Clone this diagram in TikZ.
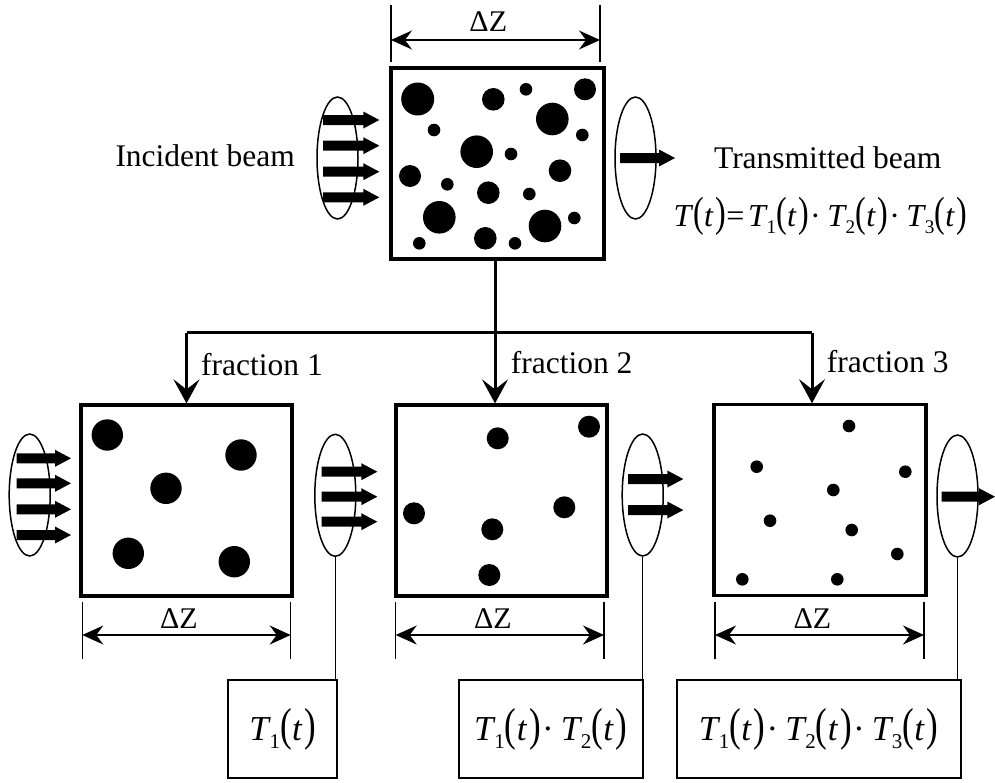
\documentclass[tikz,border=0pt]{standalone}
\usepackage{fontspec}
\setmainfont{Liberation Serif}
\usepackage{graphicx}
\usetikzlibrary{arrows.meta,shapes.geometric}

\newcommand\PL{\scalebox{1}[1.32]{(}}
\newcommand\PR{\scalebox{1}[1.32]{)}}
\newcommand\argt{\PL\kern0.01em\textit{t}\kern0.06em\PR}
\newcommand\Tn[1]{\textit{T}\kern-0.04em\raisebox{-0.22em}{\scalebox{0.6}{#1}}}
\newcommand\cdt{\kern0.03em·\kern0.2em}
\newcommand\beamarrow[3]{\fill (#1,#3-5) -- (#2-16,#3-5) -- (#2-16,#3-8.5) -- (#2,#3) -- (#2-16,#3+8.5) -- (#2-16,#3+5) -- (#1,#3+5) -- cycle;}

\tikzset{
  samplebox/.style={draw, line width=3.2pt, inner sep=0pt},
  resbox/.style={draw, line width=2pt, inner sep=0pt, minimum height=98pt, font=\fontsize{35}{42}\selectfont},
  beamring/.style={draw, ellipse, line width=1.5pt, inner sep=0pt, minimum width=41pt, minimum height=122pt},
  tree/.style={line width=3pt},
  treearrow/.style={tree, -{Stealth[length=24pt,width=26pt,inset=10pt]}},
  dimtick/.style={line width=1.4pt},
  dimarrow/.style={line width=1.4pt, {Stealth[length=21pt,width=19pt,inset=7pt]}-{Stealth[length=21pt,width=19pt,inset=7pt]}},
  lead/.style={line width=1.4pt},
  lbl/.style={inner sep=0pt, font=\fontsize{31.5}{38}\selectfont},
  dz/.style={inner sep=0pt, anchor=base, font=\fontsize{30}{36}\selectfont},
}

\begin{document}
\begin{tikzpicture}[x=1pt,y=-1pt]
\useasboundingbox (0,0) rectangle (995,782);

% ---------- top sample ----------
\node[samplebox, minimum width=213pt, minimum height=191pt] (top) at (497.5,163.5) {};
\foreach \x/\y/\r in {417.7/99/16.5, 493.3/99.3/11.3, 526/89.3/6.3, 585/89.3/11,
  552.3/119/16.3, 434/130/6.3, 582.3/135/6.3, 476.7/151.7/16.3, 511/154/6.3,
  410/176/11, 560/170.7/11.3, 447.3/184.3/6.3, 488.3/192.7/11.3, 529.3/194/6.3,
  439.3/217.3/16.3, 545/226/16.3, 574.3/218/6.3, 419.3/243.3/6.3, 485.3/238.3/11.3, 515/243.3/6.3}
  \fill (\x,\y) circle[radius=\r pt];

% dimension top
\draw[dimtick] (391,5) -- (391,62);
\draw[dimtick] (600,5) -- (600,62);
\coordinate (tdl) at (391,40);
\coordinate (tdr) at (600,40);
\draw[dimarrow] (tdl) -- (tdr);
\node[dz] (tdz) at (488.3,31.7) {ΔZ};

% incident / transmitted beams
\node[beamring] (ein) at (337.5,158) {};
\foreach \y in {120,145.7,171.7,197.3} {\beamarrow{323}{379.3}{\y}}
\node[lbl, anchor=base east] (inc) at (295,166.7) {Incident beam};

\node[beamring] (eout) at (635.5,158) {};
\beamarrow{620}{675}{158}
\node[lbl, anchor=base] (trans) at (827.7,168.3) {Transmitted beam};
\node[lbl, anchor=base, font=\fontsize{32}{40}\selectfont] (formula) at (820.5,226.7)
  {\textit{T}\argt=\kern0.12em\Tn{1}\argt\cdt\Tn{2}\argt\cdt\Tn{3}\argt};

% ---------- fraction tree ----------
\node[samplebox, minimum width=211pt, minimum height=191pt] (b1) at (186.5,500.5) {};
\node[samplebox, minimum width=211pt, minimum height=191pt] (b2) at (501.5,500.5) {};
\node[samplebox, minimum width=212pt, minimum height=191pt] (b3) at (820,500.3) {};

\coordinate (split) at (495,332.7);
\draw[tree] (top.south -| split) -- (split);
\draw[tree] (split -| b1.north) -- (split) -- ([xshift=-8pt]split -| b3.north);
\draw[treearrow] (split -| b1.north) -- (b1.north);
\draw[treearrow] (split) -- (split |- b2.north);
\draw[treearrow] ([xshift=-8pt]split -| b3.north) -- ([xshift=-8pt]b3.north);

\node[lbl, anchor=base west] (f1) at (201,375) {fraction 1};
\node[lbl, anchor=base west] (f2) at (510.7,373.3) {fraction 2};
\node[lbl, anchor=base west] (f3) at (826.7,372.7) {fraction 3};

% particles fraction 1
\foreach \x/\y in {107.3/435, 241/455, 166/488.3, 128.3/553.3, 234.3/561.7}
  \fill (\x,\y) circle[radius=15.7pt];
% particles fraction 2
\foreach \x/\y in {497.7/438.3, 589/426.7, 414/513.3, 564.3/507.3, 492.3/529.3, 489.3/575}
  \fill (\x,\y) circle[radius=11pt];
% particles fraction 3
\foreach \x/\y in {849/426, 756.7/466.7, 905.3/471.7, 833.3/490, 770/520.7,
  851.7/530, 897.3/554, 742.3/579.3, 837.3/579.3}
  \fill (\x,\y) circle[radius=6.3pt];

% beams between boxes
\node[beamring] (e1) at (29.7,495) {};
\foreach \y in {458.3,483.3,509.3,535} {\beamarrow{16.7}{71}{\y}}
\node[beamring] (e2) at (335.3,495.3) {};
\foreach \y in {471.7,496.7,521.7} {\beamarrow{321.7}{377.3}{\y}}
\node[beamring] (e3) at (642.7,495) {};
\foreach \y in {479,510} {\beamarrow{628}{683.3}{\y}}
\node[beamring] (e4) at (957.5,496) {};
\beamarrow{941.7}{995}{496.7}

% bottom dimensions
\foreach \a/\b/\c/\n in {82.3/290.7/179/1, 395.7/604/493/2, 715/924/812.5/3} {
  \draw[dimtick] (\a,601.7) -- (\a,659);
  \draw[dimtick] (\b,601.7) -- (\b,659);
  \coordinate (dl\n) at (\a,635);
  \coordinate (dr\n) at (\b,635);
  \draw[dimarrow] (dl\n) -- (dr\n);
  \node[dz] (dz\n) at (\c,628) {ΔZ};
}

% result boxes
\node[resbox, minimum width=109pt] (r1) at (282.8,729.2) {\Tn{1}\argt};
\node[resbox, minimum width=183.7pt] (r2) at (550.9,729.2) {\Tn{1}\argt\cdt\Tn{2}\argt};
\node[resbox, minimum width=284pt] (r3) at (818.7,729.2) {\Tn{1}\argt\cdt\Tn{2}\argt\cdt\Tn{3}\argt};

\draw[lead] (e2.south) -- (e2.south |- r1.north);
\draw[lead] (e3.south) -- (e3.south |- r2.north);
\draw[lead] (e4.south) -- (e4.south |- r3.north);
\end{tikzpicture}
\end{document}
